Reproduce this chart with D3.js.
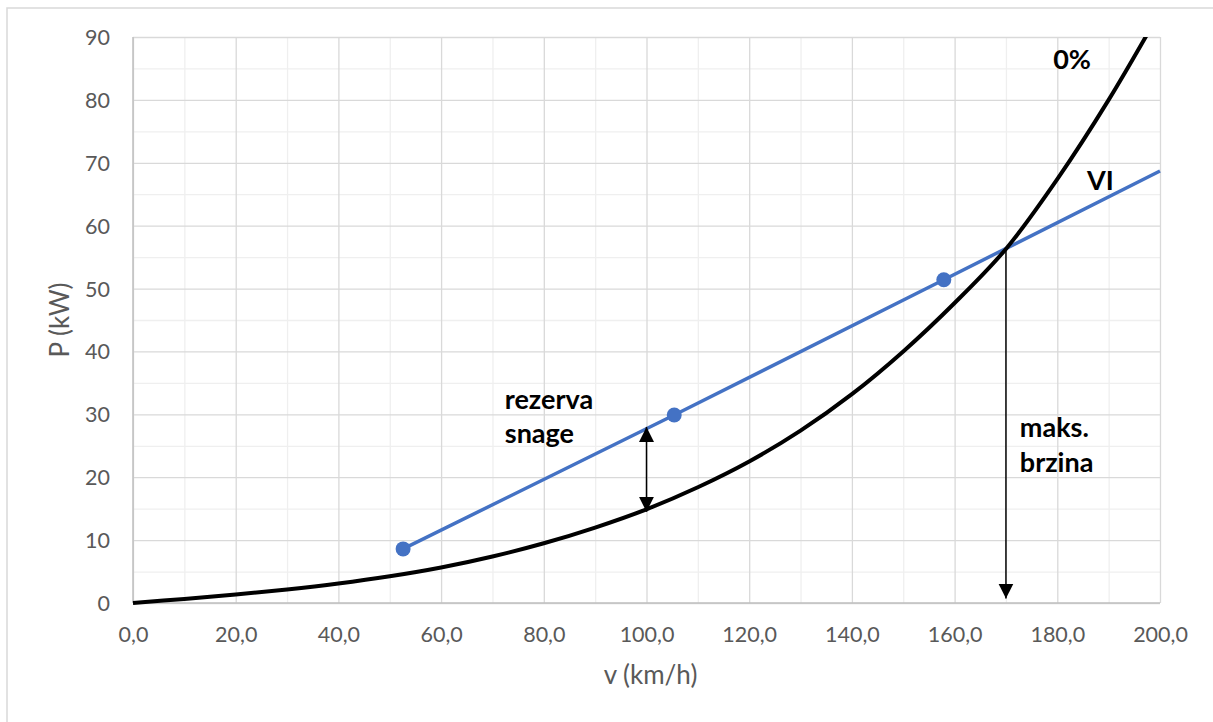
<!DOCTYPE html>
<html>
<head>
<meta charset="utf-8">
<script src="https://cdn.jsdelivr.net/npm/d3@7"></script>
<style>
  body { margin: 0; background: #fff; }
  svg { display: block; }
  text { font-family: Lato, "Open Sans", sans-serif; }
</style>
</head>
<body>
<div class="chart"></div>
<script>
// 0% grade resistance power curve
var speed = [0, 10, 20, 30, 40, 50, 60, 70, 80, 90, 100, 110, 120, 130, 140, 150, 160, 170, 180, 190, 200];
var power0 = [0, 0.65, 1.35, 2.15, 3.1, 4.25, 5.65, 7.4, 9.5, 12.0, 14.9, 18.4, 22.5, 27.4, 33.2, 40.0, 47.7, 56.3, 67.4, 80.0, 94.0];

// VI gear power line
var speedVI = [52.6, 105.4, 157.9, 200];
var powerVI = [8.6, 29.9, 51.4, 68.7];
var markedVI = [true, true, true, false];

// axis ticks
var xTicks = [0, 20, 40, 60, 80, 100, 120, 140, 160, 180, 200];
var yTicks = [0, 10, 20, 30, 40, 50, 60, 70, 80, 90];

// annotations (data units)
var labelText = ["0%", "VI", "rezerva", "snage", "maks.", "brzina"];
var labelV = [179.2, 185.8, 72.4, 72.4, 172.7, 172.7];
var labelP = [84.9, 65.7, 30.8, 25.4, 26.4, 20.8];

var arrowV = [100, 170];
var arrowFrom = [14.5, 56.3];
var arrowTo = [28.0, 0.7];
var arrowBoth = [true, false];

var W = 1213, H = 722;
var plotL = 133, plotR = 1160, plotT = 37, plotB = 603;

var svg = d3.select('.chart').append('svg')
  .attr('width', W)
  .attr('height', H);

// chart frame
svg.append('rect')
  .attr('x', 7).attr('y', 8)
  .attr('width', 1230).attr('height', 740)
  .attr('fill', '#fff')
  .attr('stroke', '#d9d9d9')
  .attr('stroke-width', 1.5);

var x = d3.scaleLinear().domain([0, 200]).range([plotL, plotR]);
var y = d3.scaleLinear().domain([0, 90]).range([plotB, plotT]);

var minorX = d3.range(10, 200, 20);
var minorY = d3.range(5, 90, 10);

function grid(g, color){
  g.select('.domain').remove();
  g.selectAll('line').attr('stroke', color).attr('stroke-width', 1.3);
}

// minor grid
svg.append('g')
  .attr('transform', 'translate(0,' + plotB + ')')
  .call(d3.axisBottom(x).tickValues(minorX).tickSize(-(plotB - plotT)).tickFormat(''))
  .call(grid, '#efefef');

svg.append('g')
  .attr('transform', 'translate(' + plotL + ',0)')
  .call(d3.axisLeft(y).tickValues(minorY).tickSize(-(plotR - plotL)).tickFormat(''))
  .call(grid, '#efefef');

// major grid
svg.append('g')
  .attr('transform', 'translate(0,' + plotB + ')')
  .call(d3.axisBottom(x).tickValues(xTicks).tickSize(-(plotB - plotT)).tickFormat(''))
  .call(grid, '#d9d9d9');

svg.append('g')
  .attr('transform', 'translate(' + plotL + ',0)')
  .call(d3.axisLeft(y).tickValues(yTicks).tickSize(-(plotR - plotL)).tickFormat(''))
  .call(grid, '#d9d9d9');

// axis lines
svg.append('line')
  .attr('x1', plotL).attr('x2', plotR).attr('y1', plotB).attr('y2', plotB)
  .attr('stroke', '#bfbfbf').attr('stroke-width', 1.5);
svg.append('line')
  .attr('x1', plotL).attr('x2', plotL).attr('y1', plotT).attr('y2', plotB)
  .attr('stroke', '#bfbfbf').attr('stroke-width', 1.5);

// tick labels
var fmtX = function(d){ return d3.format('.1f')(d).replace('.', ','); };

var xAxis = svg.append('g')
  .attr('transform', 'translate(0,' + plotB + ')')
  .call(d3.axisBottom(x).tickValues(xTicks).tickSize(0).tickPadding(0).tickFormat(fmtX));
xAxis.select('.domain').remove();
xAxis.selectAll('text')
  .attr('y', 39).attr('dy', 0)
  .attr('fill', '#595959')
  .style('font-size', '21.5px');

var yAxis = svg.append('g')
  .attr('transform', 'translate(' + plotL + ',0)')
  .call(d3.axisLeft(y).tickValues(yTicks).tickSize(0).tickPadding(0));
yAxis.select('.domain').remove();
yAxis.selectAll('text')
  .attr('x', -23).attr('dy', 7.5)
  .attr('fill', '#595959')
  .style('font-size', '21.5px');

// axis titles
svg.append('text')
  .attr('x', (plotL + plotR) / 2 + 4)
  .attr('y', 684)
  .attr('text-anchor', 'middle')
  .attr('fill', '#595959')
  .style('font-size', '26px')
  .text('v (km/h)');

svg.append('text')
  .attr('transform', 'translate(69,' + ((plotT + plotB) / 2) + ') rotate(-90)')
  .attr('text-anchor', 'middle')
  .attr('fill', '#595959')
  .style('font-size', '26px')
  .text('P (kW)');

// clip to plot area
svg.append('clipPath').attr('id', 'plot')
  .append('rect')
  .attr('x', plotL - 2).attr('y', plotT)
  .attr('width', plotR - plotL + 4).attr('height', plotB - plotT + 2);

var curve0 = speed.map(function(v, i){ return [v, power0[i]]; });
var lineVI = speedVI.map(function(v, i){ return [v, powerVI[i], markedVI[i]]; });

var smooth = d3.line()
  .x(function(d){ return x(d[0]); })
  .y(function(d){ return y(d[1]); })
  .curve(d3.curveCatmullRom.alpha(0.5));

var straight = d3.line()
  .x(function(d){ return x(d[0]); })
  .y(function(d){ return y(d[1]); });

svg.append('path')
  .datum(lineVI)
  .attr('d', straight)
  .attr('clip-path', 'url(#plot)')
  .attr('fill', 'none')
  .attr('stroke', '#4472c4')
  .attr('stroke-width', 3.5);

svg.selectAll('circle.vi')
  .data(lineVI.filter(function(d){ return d[2]; }))
  .enter().append('circle')
  .attr('class', 'vi')
  .attr('cx', function(d){ return x(d[0]); })
  .attr('cy', function(d){ return y(d[1]); })
  .attr('r', 7.5)
  .attr('fill', '#4472c4');

svg.append('path')
  .datum(curve0)
  .attr('d', smooth)
  .attr('clip-path', 'url(#plot)')
  .attr('fill', 'none')
  .attr('stroke', '#000')
  .attr('stroke-width', 4);

// arrows
var defs = svg.append('defs');
defs.append('marker')
  .attr('id', 'head')
  .attr('viewBox', '0 0 10 10')
  .attr('refX', 10).attr('refY', 5)
  .attr('markerUnits', 'userSpaceOnUse')
  .attr('markerWidth', 15).attr('markerHeight', 16)
  .attr('orient', 'auto-start-reverse')
  .append('path')
  .attr('d', 'M0,0 L10,5 L0,10 Z')
  .attr('fill', '#000');

arrowV.forEach(function(v, i){
  var a = svg.append('line')
    .attr('x1', x(v)).attr('x2', x(v))
    .attr('y1', y(arrowFrom[i])).attr('y2', y(arrowTo[i]))
    .attr('stroke', '#000')
    .attr('stroke-width', 1.5)
    .attr('marker-end', 'url(#head)');
  if(arrowBoth[i])
    a.attr('marker-start', 'url(#head)');
});

// labels
labelText.forEach(function(t, i){
  svg.append('text')
    .attr('x', x(labelV[i]))
    .attr('y', y(labelP[i]))
    .attr('fill', '#000')
    .style('font-size', '27px')
    .style('font-weight', 'bold')
    .text(t);
});
</script>
</body>
</html>
